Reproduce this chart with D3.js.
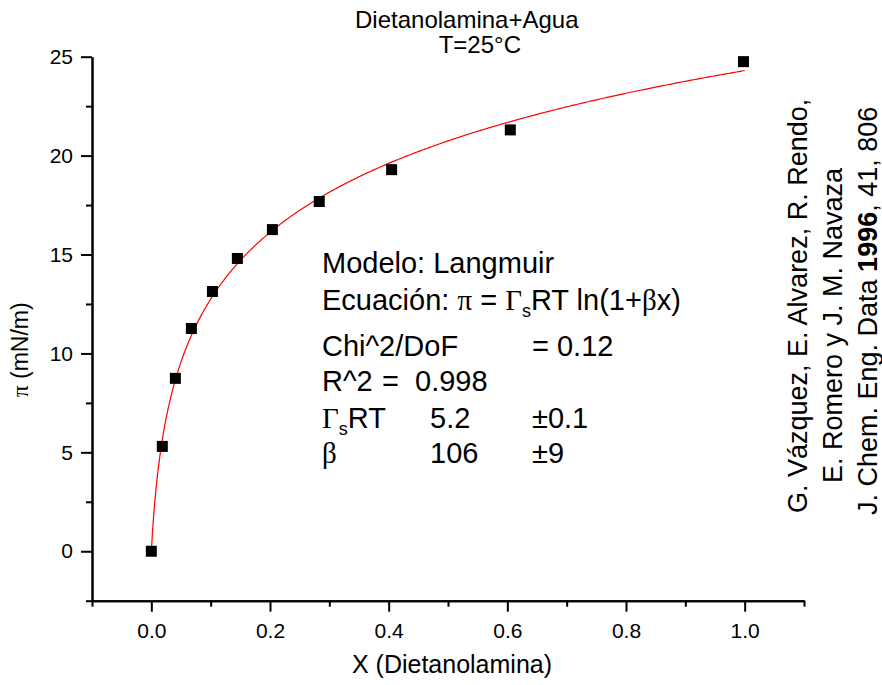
<!DOCTYPE html>
<html>
<head>
<meta charset="utf-8">
<script src="https://cdn.jsdelivr.net/npm/d3@7"></script>
<style>
  html, body { margin: 0; padding: 0; background: #fff; }
  svg { display: block; font-family: "Liberation Sans", Arial, sans-serif; }
  .greek { font-family: "Liberation Serif", "DejaVu Serif", serif; }
</style>
</head>
<body>
<svg id="chart" width="882" height="685"></svg>
<script>
// Surface pressure of diethanolamine + water at 25 °C
const moleFraction = [0, 0.0185, 0.0405, 0.0675, 0.103, 0.145, 0.204, 0.283, 0.405, 0.605, 0.998];
const surfacePressure = [0, 5.3, 8.74, 11.26, 13.13, 14.8, 16.26, 17.68, 19.29, 21.3, 24.75];

// Langmuir fit parameters: pi = GammaS*RT * ln(1 + beta*x)
const gammaRT = 5.2;
const beta = 106;

const xMajorTicks = [0.0, 0.2, 0.4, 0.6, 0.8, 1.0];
const xMinorTicks = [-0.1, 0.1, 0.3, 0.5, 0.7, 0.9, 1.1];
const yMajorTicks = [0, 5, 10, 15, 20, 25];
const yMinorTicks = [-2.5, 2.5, 7.5, 12.5, 17.5, 22.5];

const svg = d3.select("#chart");

const x = d3.scaleLinear().domain([-0.1, 1.1]).range([92, 804]);
const y = d3.scaleLinear().domain([-2.5, 25]).range([600.7, 56.7]);

// Axes: major ticks with labels, minor ticks without
function styleAxis(g) {
  g.selectAll("path.domain").attr("stroke", "#000").attr("stroke-width", 2);
  g.selectAll(".tick line").attr("stroke", "#000").attr("stroke-width", 2);
  g.selectAll(".tick text").attr("fill", "#000").attr("font-size", 21)
    .attr("font-family", "Liberation Sans, Arial, sans-serif");
}

const xAxisMajor = svg.append("g").attr("transform", `translate(0,${y(-2.5)})`)
  .call(d3.axisBottom(x).tickValues(xMajorTicks).tickFormat(d3.format(".1f"))
    .tickSize(11).tickSizeOuter(0).tickPadding(6));
styleAxis(xAxisMajor);
xAxisMajor.selectAll(".tick text").attr("dy", "0.95em");

const xAxisMinor = svg.append("g").attr("transform", `translate(0,${y(-2.5)})`)
  .call(d3.axisBottom(x).tickValues(xMinorTicks).tickFormat("").tickSize(6).tickSizeOuter(0));
styleAxis(xAxisMinor);

const yAxisMajor = svg.append("g").attr("transform", `translate(${x(-0.1)},0)`)
  .call(d3.axisLeft(y).tickValues(yMajorTicks).tickFormat(d3.format("d"))
    .tickSize(11).tickSizeOuter(0).tickPadding(8));
styleAxis(yAxisMajor);

const yAxisMinor = svg.append("g").attr("transform", `translate(${x(-0.1)},0)`)
  .call(d3.axisLeft(y).tickValues(yMinorTicks).tickFormat("").tickSize(6).tickSizeOuter(0));
styleAxis(yAxisMinor);

// Fitted Langmuir curve
const fitX = d3.range(0, 1.0001, 0.002);
const line = d3.line().x(d => x(d)).y(d => y(gammaRT * Math.log(1 + beta * d)));
svg.append("path").datum(fitX)
  .attr("d", line).attr("fill", "none").attr("stroke", "#ff0000").attr("stroke-width", 1.2);

// Measured points
const pts = moleFraction.map((v, i) => ({ x: v, y: surfacePressure[i] }));
const sq = 11;
svg.append("g").selectAll("rect").data(pts).join("rect")
  .attr("x", d => x(d.x) - sq / 2).attr("y", d => y(d.y) - sq / 2)
  .attr("width", sq).attr("height", sq).attr("fill", "#000");

// Title
svg.append("text").attr("x", 355).attr("y", 28).attr("font-size", 24).text("Dietanolamina+Agua");
svg.append("text").attr("x", 521).attr("y", 53).attr("font-size", 24).attr("text-anchor", "end").text("T=25°C");

// Axis titles
svg.append("text").attr("x", 452).attr("y", 673).attr("font-size", 25).attr("text-anchor", "middle")
  .text("X (Dietanolamina)");
const yt = svg.append("text").attr("transform", "translate(28,397) rotate(-90)")
  .attr("font-size", 23).attr("text-anchor", "start");
yt.append("tspan").attr("class", "greek").text("π");
yt.append("tspan").text(" (mN/m)");

// Fit report
const fs = 29;
const ann = svg.append("g").attr("font-size", fs);
ann.append("text").attr("x", 322).attr("y", 273).text("Modelo: Langmuir");
const eq = ann.append("text").attr("x", 322).attr("y", 310);
eq.append("tspan").text("Ecuación: ");
eq.append("tspan").attr("class", "greek").text("π");
eq.append("tspan").text(" = ");
eq.append("tspan").attr("class", "greek").text("Γ");
eq.append("tspan").attr("font-size", 18).attr("dy", 7).text("s");
eq.append("tspan").attr("dy", -7).text("RT ln(1+");
eq.append("tspan").attr("class", "greek").text("β");
eq.append("tspan").text("x)");

ann.append("text").attr("x", 322).attr("y", 356).text("Chi^2/DoF");
ann.append("text").attr("x", 532).attr("y", 356).text("= 0.12");
ann.append("text").attr("x", 322).attr("y", 391).text("R^2");
ann.append("text").attr("x", 382).attr("y", 391).text("=");
ann.append("text").attr("x", 415).attr("y", 391).text("0.998");

const g1 = ann.append("text").attr("x", 322).attr("y", 428);
g1.append("tspan").attr("class", "greek").text("Γ");
g1.append("tspan").attr("font-size", 18).attr("dy", 7).text("s");
g1.append("tspan").attr("dy", -7).text("RT");
ann.append("text").attr("x", 430).attr("y", 428).text(gammaRT.toFixed(1));
ann.append("text").attr("x", 532).attr("y", 428).text("±0.1");

ann.append("text").attr("x", 322).attr("y", 463).attr("class", "greek").text("β");
ann.append("text").attr("x", 430).attr("y", 463).text(String(beta));
ann.append("text").attr("x", 532).attr("y", 463).text("±9");

// Literature reference, set vertically on the right
const ref = svg.append("g").attr("font-size", 27);
ref.append("text").attr("transform", "translate(807,513) rotate(-90)")
  .text("G. Vázquez, E. Alvarez, R. Rendo,");
ref.append("text").attr("transform", "translate(842,483) rotate(-90)")
  .text("E. Romero y J. M. Navaza");
const r3 = ref.append("text").attr("transform", "translate(877,515) rotate(-90)");
r3.append("tspan").text("J. Chem. Eng. Data ");
r3.append("tspan").attr("font-weight", "bold").text("1996");
r3.append("tspan").text(", 41, 806");
</script>
</body>
</html>
